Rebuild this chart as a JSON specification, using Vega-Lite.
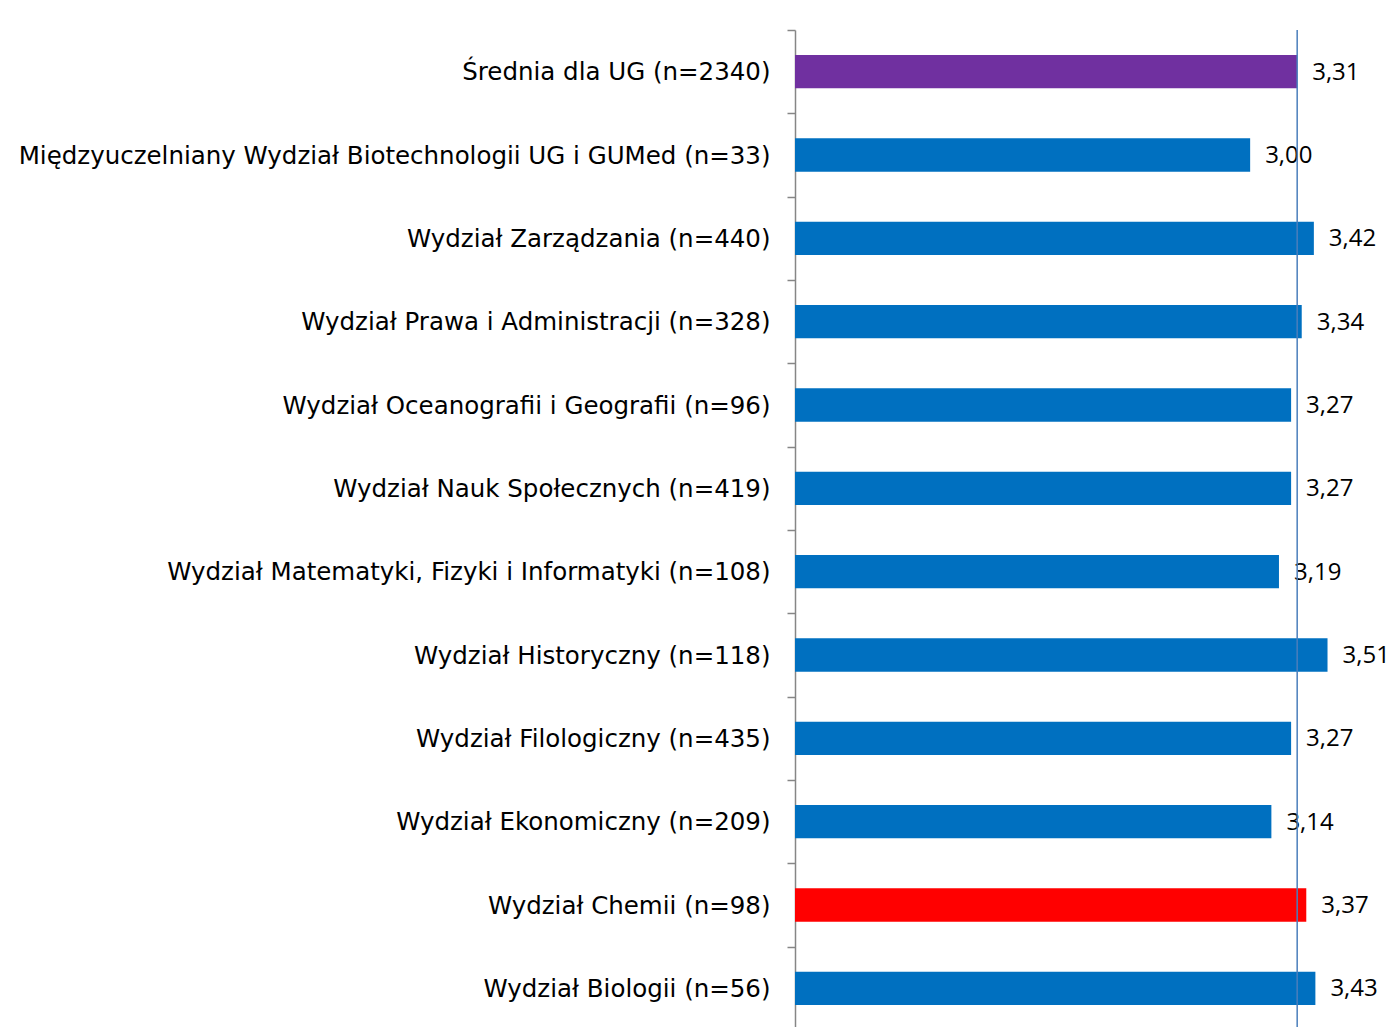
{
  "$schema": "https://vega.github.io/schema/vega-lite/v6.json",
  "autosize": "none",
  "padding": {"left": 795, "top": 30, "right": 0, "bottom": 0},
  "width": 597,
  "height": 1000,
  "config": {
    "view": {"stroke": null},
    "locale": {"number": {"decimal": ",", "thousands": " ", "grouping": [3], "currency": ["", " zł"]}}
  },
  "data": {
    "values": [
      {"wydzial": "Średnia dla UG (n=2340)", "srednia": 3.31, "grupa": "UG"},
      {"wydzial": "Międzyuczelniany Wydział Biotechnologii UG i GUMed (n=33)", "srednia": 3.00, "grupa": "Wydział"},
      {"wydzial": "Wydział Zarządzania (n=440)", "srednia": 3.42, "grupa": "Wydział"},
      {"wydzial": "Wydział Prawa i Administracji (n=328)", "srednia": 3.34, "grupa": "Wydział"},
      {"wydzial": "Wydział Oceanografii i Geografii (n=96)", "srednia": 3.27, "grupa": "Wydział"},
      {"wydzial": "Wydział Nauk Społecznych (n=419)", "srednia": 3.27, "grupa": "Wydział"},
      {"wydzial": "Wydział Matematyki, Fizyki i Informatyki (n=108)", "srednia": 3.19, "grupa": "Wydział"},
      {"wydzial": "Wydział Historyczny (n=118)", "srednia": 3.51, "grupa": "Wydział"},
      {"wydzial": "Wydział Filologiczny (n=435)", "srednia": 3.27, "grupa": "Wydział"},
      {"wydzial": "Wydział Ekonomiczny (n=209)", "srednia": 3.14, "grupa": "Wydział"},
      {"wydzial": "Wydział Chemii (n=98)", "srednia": 3.37, "grupa": "Chemia"},
      {"wydzial": "Wydział Biologii (n=56)", "srednia": 3.43, "grupa": "Wydział"}
    ]
  },
  "layer": [
    {
      "mark": {"type": "bar", "height": {"band": 0.4}},
      "encoding": {
        "y": {
          "field": "wydzial", "type": "nominal", "sort": null,
          "scale": {"paddingInner": 0, "paddingOuter": 0},
          "axis": {
            "title": null,
            "labelFont": "DejaVu Sans", "labelFontSize": 24.5, "labelColor": "#000000",
            "labelLimit": 0, "labelPadding": 17, "labelOffset": 1,
            "tickBand": "extent", "tickSize": 8, "tickColor": "#868686", "tickWidth": 1.5,
            "domainColor": "#868686", "domainWidth": 1.5
          }
        },
        "x": {
          "field": "srednia", "type": "quantitative",
          "scale": {"domain": [0, 3.935], "nice": false, "zero": true},
          "axis": null
        },
        "color": {
          "field": "grupa", "type": "nominal",
          "scale": {"domain": ["UG", "Wydział", "Chemia"], "range": ["#7030A0", "#0070C0", "#FF0000"]},
          "legend": null
        }
      }
    },
    {
      "mark": {"type": "text", "align": "left", "baseline": "middle", "dx": 15, "dy": 1, "font": "Open Sans", "fontSize": 24, "color": "#000000"},
      "encoding": {
        "y": {"field": "wydzial", "type": "nominal", "sort": null},
        "x": {"field": "srednia", "type": "quantitative"},
        "text": {"field": "srednia", "type": "quantitative", "format": ".2f"}
      }
    },
    {
      "data": {"values": [{"srednia_ug": 3.31}]},
      "mark": {"type": "rule", "color": "#4A7EBB", "strokeWidth": 1.5},
      "encoding": {
        "x": {"field": "srednia_ug", "type": "quantitative"}
      }
    }
  ]
}
